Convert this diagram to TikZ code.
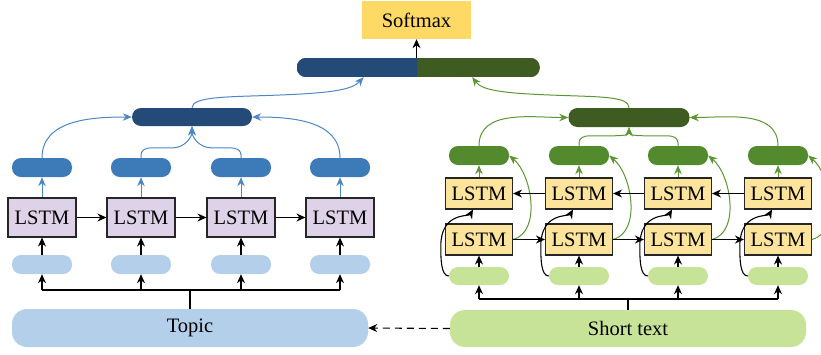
\documentclass[tikz,border=0pt]{standalone}
\usepackage{fontspec}
\setmainfont{Liberation Serif}
\usetikzlibrary{arrows.meta,calc}
\definecolor{cLstmL}{HTML}{DED2E8}
\definecolor{cLstmR}{HTML}{FCE49C}
\definecolor{hblue}{HTML}{3D7AB8}
\definecolor{dblue}{HTML}{244A78}
\definecolor{lblue}{HTML}{B4CFEA}
\definecolor{hgreen}{HTML}{548A2E}
\definecolor{dgreen}{HTML}{3E5B22}
\definecolor{lgreen}{HTML}{C6E397}
\definecolor{ablue}{HTML}{4A87C4}
\definecolor{agreen}{HTML}{5C9632}
\definecolor{smax}{HTML}{FFD966}
\begin{document}
\begin{tikzpicture}[x=1pt,y=1pt,
  txt/.style={font=\fontsize{20.5}{22}\selectfont},
  lstmboxL/.style={draw=black!85, line width=1.1pt, fill=cLstmL, minimum width=68pt, minimum height=39pt, inner sep=0pt, txt},
  lstmboxR/.style={draw=black!85, line width=1.1pt, fill=cLstmR, minimum width=67pt, minimum height=31pt, inner sep=0pt, txt},
  pill/.style={rounded corners=9pt, minimum width=60pt, minimum height=19pt, inner sep=0pt},
  arr/.style={-{Stealth[length=9pt,width=8pt]}, line width=1.1pt, black},
  barr/.style={-{Stealth[length=9pt,width=7.5pt]}, line width=1pt, ablue},
  garr/.style={-{Stealth[length=9pt,width=7.5pt]}, line width=1pt, agreen},
]
\useasboundingbox (0,0) rectangle (821,-354);

% softmax and concat
\node[txt, fill=smax, minimum width=109pt, minimum height=38pt, inner sep=0pt] (SM) at (416.5,-20) {Softmax};
\node[minimum width=119.5pt, minimum height=19pt, inner sep=0pt, anchor=east] (CB) at (416.5,-67.5) {};
\node[minimum width=123pt, minimum height=19pt, inner sep=0pt, anchor=west] (CG) at (416.5,-67.5) {};
\begin{scope}
\clip[rounded corners=9.5pt] (CB.south west) rectangle (CG.north east);
\fill[dblue] (CB.south west) rectangle (CB.north east);
\fill[dgreen] (CG.south west) rectangle (CG.north east);
\end{scope}
\draw[arr] (SM.south |- CB.north) -- (SM.south);

% aggregators
\node[pill, fill=dblue, minimum width=120pt, minimum height=18pt] (AB) at (192,-117) {};
\node[pill, fill=dgreen, minimum width=121pt, minimum height=19pt] (AG) at (629,-117.5) {};

% left side
\foreach \i/\x in {1/42,2/141,3/241,4/340}{
  \node[lstmboxL] (L\i) at (\x,-217.5) {LSTM};
  \node[pill, fill=hblue] (HB\i) at (\x,-167.5) {};
  \node[pill, fill=lblue] (LB\i) at (\x,-264.5) {};
}
\node[txt, fill=lblue, rounded corners=15pt, minimum width=356pt, minimum height=38pt, inner sep=0pt] (TOP) at (190,-328) {Topic};

% right side
\foreach \i/\x in {1/479,2/579,3/678,4/778}{
  \node[lstmboxR] (T\i) at (\x,-193.5) {LSTM};
  \node[lstmboxR] (B\i) at (\x,-239.5) {LSTM};
  \node[pill, fill=hgreen] (GH\i) at (\x,-155.5) {};
  \node[pill, fill=lgreen, minimum height=18pt] (LG\i) at (\x,-276) {};
}
\node[txt, fill=lgreen, rounded corners=15pt, minimum width=356pt, minimum height=37pt, inner sep=0pt] (SHT) at (628,-328.5) {Short text};

% left connections
\coordinate (busL) at (190,-290);
\draw[line width=1.1pt] (LB1.south |- busL) -- (LB4.south |- busL);
\draw[line width=2pt] (TOP.north) -- (TOP.north |- busL);
\foreach \i in {1,2,3,4}{
  \draw[arr] (LB\i.south |- busL) -- (LB\i.south);
  \draw[arr] (LB\i.north) -- (L\i.south);
  \draw[barr] (L\i.north) -- (HB\i.south);
}
\draw[arr] (L1.east) -- (L2.west);
\draw[arr] (L2.east) -- (L3.west);
\draw[arr] (L3.east) -- (L4.west);
\draw[barr] (HB1.north) to[out=90,in=180] (AB.west);
\draw[barr] (HB4.north) to[out=90,in=0] (AB.east);
\draw[barr] (HB2.north) -- ++(0,3) to[out=90,in=180] ++(10,7) -- ++(22,0) to[out=0,in=-90] (AB.south);
\draw[barr] (HB3.north) -- ++(0,3) to[out=90,in=0] ++(-10,7) -- ++(-20,0) to[out=180,in=-90] (AB.south);
\draw[barr] (AB.north) .. controls (192,-96) and (230,-97) .. (280,-95) .. controls (330,-93) and (352,-90) .. ($(CB.south)+(7,0)$);

% right connections
\coordinate (busR) at (628,-299);
\draw[line width=1.1pt] (LG1.south |- busR) -- (LG4.south |- busR);
\draw[line width=2pt] (SHT.north) -- (SHT.north |- busR);
\foreach \i in {1,2,3,4}{
  \draw[arr] (LG\i.south |- busR) -- (LG\i.south);
  \draw[arr] (LG\i.north) -- (B\i.south);
  \draw[garr] (T\i.north) -- (GH\i.south);
  \draw[garr] (B\i.east) to[out=15,in=-40,looseness=0.9] (GH\i.east);
  \draw[arr] (LG\i.west) .. controls +(-8,0) and +(0,-12) .. ($(LG\i.west)+(-8,30)$) .. controls +(0,34) and +(-4,-7) .. ($(T\i.south)+(-6,0)$);
}
\draw[arr] (B1.east) -- (B2.west);
\draw[arr] (B2.east) -- (B3.west);
\draw[arr] (B3.east) -- (B4.west);
\draw[arr] (T2.west) -- (T1.east);
\draw[arr] (T3.west) -- (T2.east);
\draw[arr] (T4.west) -- (T3.east);
\draw[garr] (GH1.north) to[out=90,in=180] (AG.west);
\draw[garr] (GH4.north) to[out=90,in=0] (AG.east);
\draw[garr] (GH2.north) -- ++(0,3) to[out=90,in=180] ++(10,7) -- ++(20,0) to[out=0,in=-90] (AG.south);
\draw[garr] (GH3.north) -- ++(0,3) to[out=90,in=0] ++(-10,7) -- ++(-19,0) to[out=180,in=-90] (AG.south);
\draw[garr] (AG.north) .. controls (629,-96) and (600,-97) .. (550,-95) .. controls (500,-93) and (482,-90) .. ($(CG.south)+(-6,0)$);

% dashed link
\draw[arr, dashed, dash pattern=on 7pt off 5pt] (SHT.west) -- (TOP.east);
\end{tikzpicture}
\end{document}
